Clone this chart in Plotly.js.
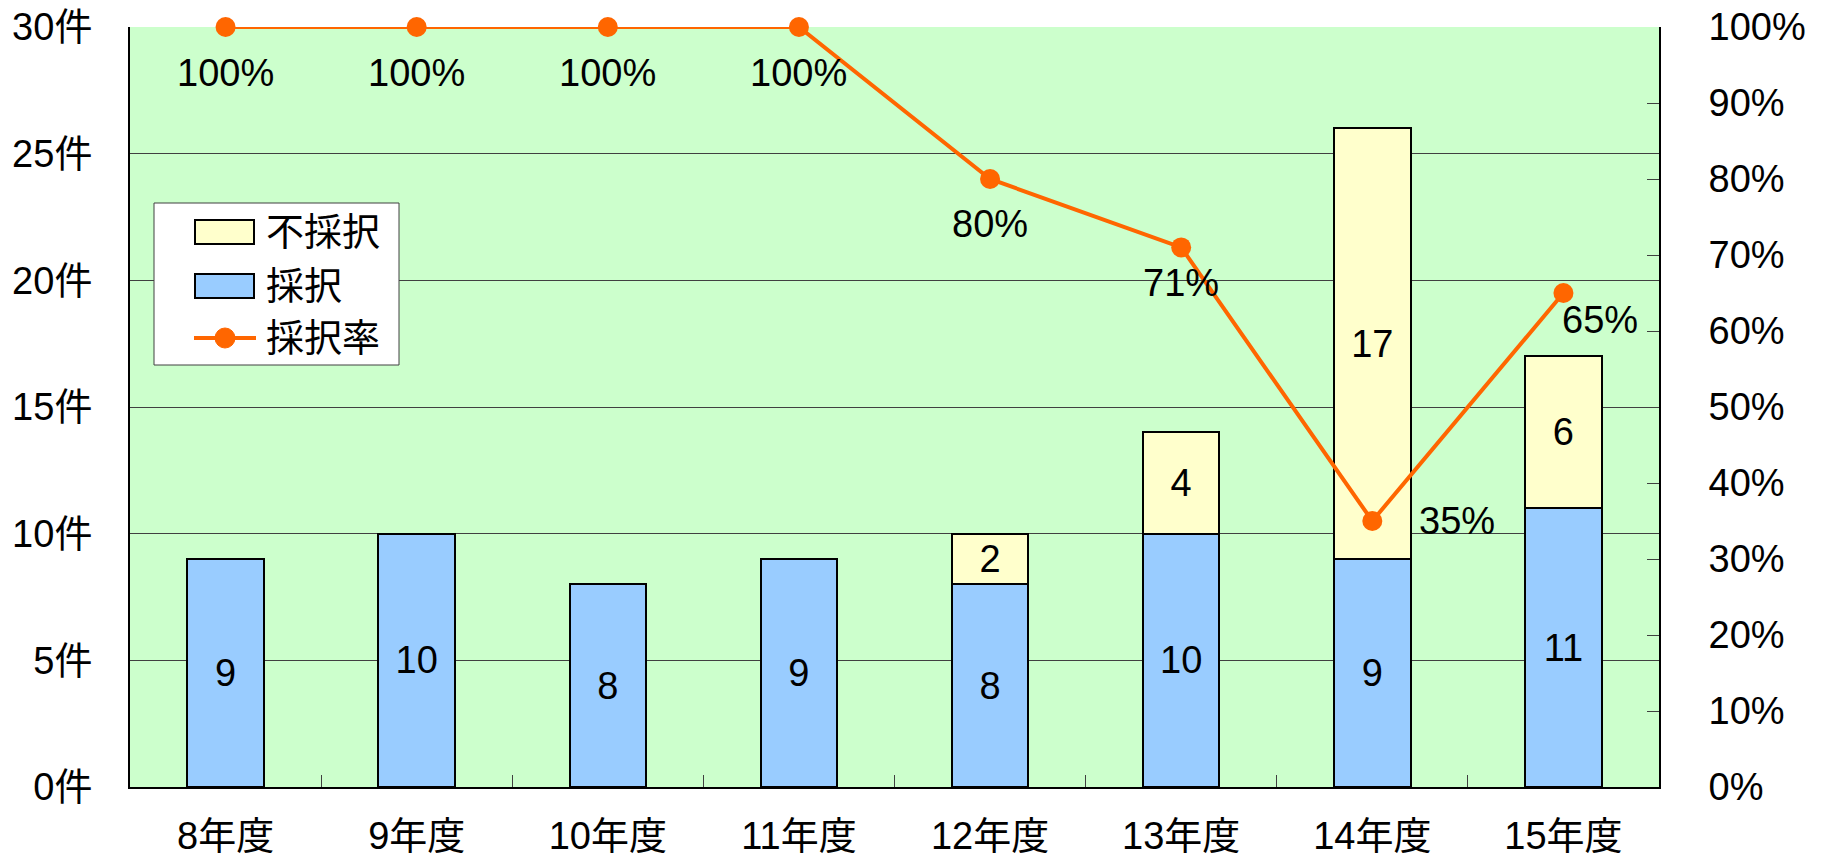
<!DOCTYPE html>
<html>
<head>
<meta charset="utf-8">
<script src="https://cdn.plot.ly/plotly-3.0.1.min.js"></script>
<style>html,body{margin:0;padding:0;background:#fff;}#chart{width:1825px;height:863px;}</style>
</head>
<body>
<div id="chart"></div>
<script>
const categories = ['8年度','9年度','10年度','11年度','12年度','13年度','14年度','15年度'];
const adopted = [9, 10, 8, 9, 8, 10, 9, 11];
const rejected = [0, 0, 0, 0, 2, 4, 17, 6];
const rate = [100, 100, 100, 100, 80, 71, 35, 65];
const leftTickVals = [0, 5, 10, 15, 20, 25, 30];
const leftTickText = ['0件','5件','10件','15件','20件','25件','30件'];
const rightTickVals = [0,10,20,30,40,50,60,70,80,90,100];
const rightTickText = ['0%','10%','20%','30%','40%','50%','60%','70%','80%','90%','100%'];
const legendNames = ['不採択', '採択', '採択率'];

const FONT = '"Liberation Sans", Arial, "Noto Sans CJK JP", sans-serif';
const FS = 38;
const C_ADOPT = '#99CCFF', C_REJ = '#FFFFCC', C_RATE = '#FF6600';

const rejectedText = rejected.map(v => v > 0 ? String(v) : '');

const traces = [
  {
    type: 'bar', name: legendNames[1], x: categories, y: adopted,
    marker: {color: C_ADOPT, line: {color: '#000000', width: 2}},
    text: adopted.map(String), textposition: 'inside', insidetextanchor: 'middle',
    textfont: {family: FONT, size: FS, color: '#000'}, hoverinfo: 'skip',
    constraintext: 'none', showlegend: false
  },
  {
    type: 'bar', name: legendNames[0], x: categories, y: rejected,
    marker: {color: C_REJ, line: {color: '#000000', width: 2}},
    text: rejectedText, textposition: 'inside', insidetextanchor: 'middle',
    textfont: {family: FONT, size: FS, color: '#000'}, hoverinfo: 'skip',
    constraintext: 'none', showlegend: false
  },
  {
    type: 'scatter', mode: 'lines+markers', name: legendNames[2], x: categories, y: rate,
    yaxis: 'y2', line: {color: C_RATE, width: 4},
    marker: {color: C_RATE, size: 20}, cliponaxis: false, showlegend: false
  }
];

// label placement (style): offsets in px relative to each point
const labelShift = [
  [0,-46],[0,-46],[0,-46],[0,-46],[0,-45],[0,-36],[85,0],[37,-27]
];
const annotations = categories.map((c, i) => ({
  x: c, y: rate[i], xref: 'x', yref: 'y2', text: rate[i] + '%', showarrow: false,
  xshift: labelShift[i][0], yshift: labelShift[i][1],
  font: {family: FONT, size: FS, color: '#000'}
}));

// custom legend drawn in paper coords (plot area: 130..1659 x, 27..787 y)
const PL = 130, PR = 1659, PT = 27, PB = 787;
const px = v => (v - PL) / (PR - PL);
const py = v => (PB - v) / (PB - PT);
const shapes = [
  {type: 'rect', xref: 'paper', yref: 'paper', x0: px(154), x1: px(399), y0: py(365), y1: py(203),
   fillcolor: '#FFFFFF', line: {color: '#404040', width: 1}, layer: 'above'},
  {type: 'rect', xref: 'paper', yref: 'paper', x0: px(195), x1: px(254), y0: py(244), y1: py(220),
   fillcolor: C_REJ, line: {color: '#000', width: 2}, layer: 'above'},
  {type: 'rect', xref: 'paper', yref: 'paper', x0: px(195), x1: px(254), y0: py(298), y1: py(274),
   fillcolor: C_ADOPT, line: {color: '#000', width: 2}, layer: 'above'},
  {type: 'line', xref: 'paper', yref: 'paper', x0: px(194), x1: px(256), y0: py(338), y1: py(338),
   line: {color: C_RATE, width: 4}, layer: 'above'},
  {type: 'circle', xref: 'paper', yref: 'paper', x0: px(215), x1: px(235), y0: py(348), y1: py(328),
   fillcolor: C_RATE, line: {color: C_RATE, width: 1}, layer: 'above'}
];
const legendY = [232, 286, 338];
legendNames.forEach((n, i) => annotations.push({
  x: px(264), y: py(legendY[i]), xref: 'paper', yref: 'paper', xanchor: 'left', yanchor: 'middle',
  text: n, showarrow: false, font: {family: FONT, size: FS, color: '#000'}
}));

const layout = {
  width: 1825, height: 863,
  margin: {l: PL, r: 1825 - PR, t: PT, b: 863 - PB, pad: 0},
  paper_bgcolor: '#FFFFFF', plot_bgcolor: '#CCFFCC',
  barmode: 'stack', bargap: 0.6,
  font: {family: FONT, size: FS, color: '#000'},
  showlegend: false,
  uniformtext: {mode: 'show', minsize: FS},
  xaxis: {
    type: 'category', showline: true, linecolor: '#000', linewidth: 2,
    ticks: 'inside', tickson: 'boundaries', ticklen: 12, tickcolor: '#404040',
    ticklabelstandoff: 14, showgrid: false, zeroline: false, fixedrange: true
  },
  yaxis: {
    range: [0, 30], tickmode: 'array', tickvals: leftTickVals, ticktext: leftTickText,
    showgrid: true, gridcolor: '#404040', gridwidth: 1,
    showline: true, linecolor: '#000', linewidth: 2,
    ticks: 'inside', ticklen: 12, tickcolor: '#404040',
    ticklabelstandoff: 28, zeroline: false, fixedrange: true
  },
  yaxis2: {
    range: [0, 100], overlaying: 'y', side: 'right', tickmode: 'array',
    tickvals: rightTickVals, ticktext: rightTickText,
    showgrid: false, showline: true, linecolor: '#000', linewidth: 2,
    ticks: 'inside', ticklen: 12, tickcolor: '#404040',
    ticklabelstandoff: 40, zeroline: false, fixedrange: true
  },
  shapes: shapes,
  annotations: annotations
};

Plotly.newPlot('chart', traces, layout, {displayModeBar: false, staticPlot: true});
</script>
</body>
</html>
